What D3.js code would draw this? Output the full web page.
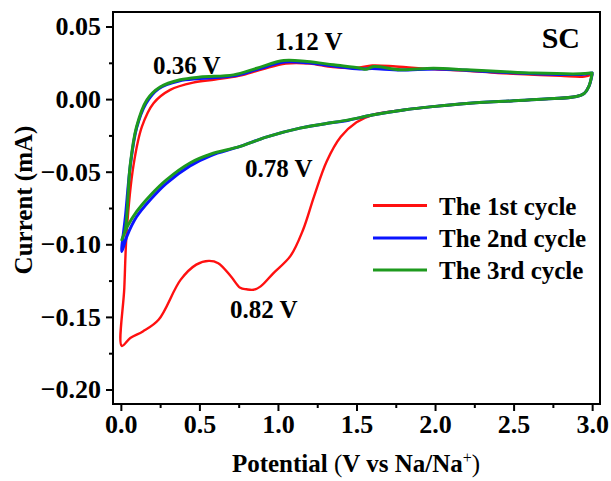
<!DOCTYPE html>
<html>
<head>
<meta charset="utf-8">
<script src="https://cdn.jsdelivr.net/npm/d3@7"></script>
<style>
  html, body { margin: 0; padding: 0; background: #fff; }
  svg { display: block; }
  text { font-family: "Liberation Serif", "Times New Roman", serif; font-weight: bold; fill: #000; }
</style>
</head>
<body>
<svg id="chart" width="611" height="481"></svg>
<script>
// ---------- DATA ----------
const seriesNames = ["The 1st cycle", "The 2nd cycle", "The 3rd cycle"];

// 1st cycle: cathodic sweep 3.0 -> 0.01 V, then anodic sweep 0.01 -> 3.0 V
const cycle1Potential = [3.0, 2.98, 2.95, 2.9, 2.7, 2.5, 2.2, 2.0, 1.8, 1.6, 1.5, 1.4, 1.31, 1.23, 1.16, 1.08, 0.97, 0.89, 0.845, 0.80, 0.76, 0.70, 0.62, 0.56, 0.48, 0.38, 0.24, 0.14, 0.06, 0.006,
  0.022, 0.038, 0.08, 0.134, 0.208, 0.314, 0.46, 0.6, 0.75, 0.9, 1.05, 1.2, 1.35, 1.5, 1.6, 1.75, 2.0, 2.2, 2.4, 2.6, 2.8, 2.95, 3.0];
const cycle1Current = [0.017, 0.009, 0.004, 0.0018, 0.0, -0.0012, -0.003, -0.005, -0.0075, -0.011, -0.016, -0.026, -0.043, -0.067, -0.090, -0.108, -0.120, -0.129, -0.1313, -0.131, -0.130, -0.122, -0.113, -0.1114, -0.114, -0.1245, -0.152, -0.160, -0.1646, -0.170,
  -0.13, -0.09, -0.046, -0.019, -0.0028, 0.0064, 0.0114, 0.0135, 0.016, 0.0205, 0.0245, 0.0245, 0.022, 0.0215, 0.0232, 0.0225, 0.0205, 0.0195, 0.018, 0.017, 0.016, 0.0155, 0.017];

// 2nd cycle
const cycle2Potential = [3.0, 2.98, 2.95, 2.9, 2.7, 2.5, 2.2, 2.0, 1.8, 1.6, 1.45, 1.3, 1.14, 0.93, 0.76, 0.57, 0.44, 0.29, 0.19, 0.10, 0.04, 0.006,
  0.03, 0.06, 0.1, 0.16, 0.24, 0.37, 0.5, 0.72, 0.87, 1.04, 1.19, 1.35, 1.52, 1.6, 1.78, 2.0, 2.2, 2.42, 2.63, 2.93, 3.0];
const cycle2Current = [0.017, 0.009, 0.004, 0.0018, 0.0, -0.0012, -0.003, -0.005, -0.0075, -0.011, -0.0145, -0.017, -0.020, -0.026, -0.0326, -0.039, -0.046, -0.058, -0.069, -0.081, -0.094, -0.105,
  -0.08, -0.046, -0.02, -0.003, 0.0072, 0.0125, 0.0142, 0.016, 0.0205, 0.0255, 0.025, 0.0228, 0.0207, 0.021, 0.020, 0.0208, 0.0198, 0.0185, 0.0175, 0.017, 0.018];

// 3rd cycle
const cycle3Potential = [3.0, 2.98, 2.95, 2.9, 2.7, 2.5, 2.2, 2.0, 1.8, 1.6, 1.45, 1.3, 1.14, 0.93, 0.76, 0.57, 0.44, 0.29, 0.19, 0.10, 0.04, 0.006,
  0.028, 0.059, 0.10, 0.166, 0.25, 0.378, 0.505, 0.717, 0.866, 1.036, 1.185, 1.354, 1.524, 1.56, 1.61, 1.78, 1.99, 2.2, 2.416, 2.63, 2.925, 2.99];
const cycle3Current = [0.018, 0.009, 0.004, 0.0018, 0.0, -0.0012, -0.003, -0.005, -0.0075, -0.011, -0.0143, -0.017, -0.020, -0.026, -0.0326, -0.038, -0.044, -0.0556, -0.066, -0.0775, -0.088, -0.097,
  -0.090, -0.046, -0.019, -0.0005, 0.0083, 0.0133, 0.0152, 0.0167, 0.0213, 0.0266, 0.0259, 0.0236, 0.0213, 0.0205, 0.0224, 0.0202, 0.0213, 0.0202, 0.019, 0.0179, 0.0174, 0.018];

const xTicks = [0.0, 0.5, 1.0, 1.5, 2.0, 2.5, 3.0];
const yTicks = [0.05, 0.00, -0.05, -0.10, -0.15, -0.20];
const annotationTexts = ["0.36 V", "1.12 V", "0.78 V", "0.82 V"];

// ---------- LAYOUT ----------
const W = 611, H = 481;
const margin = { left: 113, top: 12, right: 11, bottom: 77 };
const pw = W - margin.left - margin.right;
const ph = H - margin.top - margin.bottom;
const colors = ["#ff1010", "#0a14ff", "#1e9a1e"];
const widths = [2.4, 3, 3];

const svg = d3.select("#chart");
const g = svg.append("g").attr("transform", `translate(${margin.left},${margin.top})`);

const x = d3.scaleLinear().domain([-0.05, 3.05]).range([0, pw]);
const y = d3.scaleLinear().domain([-0.21, 0.06]).range([ph, 0]);

const xMinor = d3.range(0.25, 3.0, 0.5);
const yMinor = d3.range(-0.175, 0.06, 0.05);

const xAxisMajor = d3.axisBottom(x).tickValues(xTicks).tickFormat(d3.format(".1f")).tickSize(7);
const xAxisMinor = d3.axisBottom(x).tickValues(xMinor).tickFormat("").tickSize(4);
const yAxisMajor = d3.axisLeft(y).tickValues(yTicks).tickFormat(d3.format(".2f")).tickSize(7).tickPadding(5);
const yAxisMinor = d3.axisLeft(y).tickValues(yMinor).tickFormat("").tickSize(4);

function styleAxis(sel) {
  sel.select(".domain").remove();
  sel.selectAll("line").attr("stroke", "#000").attr("stroke-width", 2);
  sel.selectAll("text").style("font-size", "26px").attr("fill", "#000");
}

g.append("g").attr("transform", `translate(0,${ph})`).call(xAxisMajor).call(styleAxis)
  .selectAll("text").attr("y", 29).attr("dy", null);
g.append("g").attr("transform", `translate(0,${ph})`).call(xAxisMinor).call(styleAxis);
g.append("g").call(yAxisMajor).call(styleAxis);
g.append("g").call(yAxisMinor).call(styleAxis);

// curves
svg.append("defs").append("clipPath").attr("id", "clip")
  .append("rect").attr("width", pw).attr("height", ph);

const line = d3.line().x(d => x(d[0])).y(d => y(d[1])).curve(d3.curveCatmullRom.alpha(0.5));
const data = [
  d3.zip(cycle1Potential, cycle1Current),
  d3.zip(cycle2Potential, cycle2Current),
  d3.zip(cycle3Potential, cycle3Current)
];
const curves = g.append("g").attr("clip-path", "url(#clip)");
data.forEach((d, i) => {
  curves.append("path").datum(d)
    .attr("fill", "none").attr("stroke", colors[i]).attr("stroke-width", widths[i])
    .attr("stroke-linejoin", "round").attr("stroke-linecap", "round")
    .attr("d", line);
});

// frame
g.append("rect").attr("width", pw).attr("height", ph)
  .attr("fill", "none").attr("stroke", "#000").attr("stroke-width", 2);

// annotations
const annPos = [[153, 74], [275, 50], [245, 177], [230, 318]];
annotationTexts.forEach((t, i) => {
  svg.append("text").attr("x", annPos[i][0]).attr("y", annPos[i][1])
    .style("font-size", "25px").text(t);
});
svg.append("text").attr("x", 580).attr("y", 48)
  .attr("text-anchor", "end").style("font-size", "30px").text("SC");

// legend
const legY = [205.5, 238, 270];
seriesNames.forEach((n, i) => {
  svg.append("line").attr("x1", 373).attr("x2", 427)
    .attr("y1", legY[i]).attr("y2", legY[i])
    .attr("stroke", colors[i]).attr("stroke-width", 3);
  svg.append("text").attr("x", 439).attr("y", legY[i] + 9)
    .style("font-size", "25px").text(n);
});

// axis titles
const xt = svg.append("text").attr("x", 356).attr("y", 472).attr("text-anchor", "middle")
  .style("font-size", "25px");
xt.append("tspan").text("Potential ");
xt.append("tspan").style("font-weight", "normal").text("(");
xt.append("tspan").text("V vs Na/Na");
xt.append("tspan").attr("dy", "-9").style("font-size", "16px").style("font-weight", "normal").text("+");
xt.append("tspan").attr("dy", "9").style("font-weight", "normal").text(")");

svg.append("text").attr("transform", "translate(32,200) rotate(-90)").attr("text-anchor", "middle")
  .style("font-size", "25px").text("Current (mA)");
</script>
</body>
</html>
